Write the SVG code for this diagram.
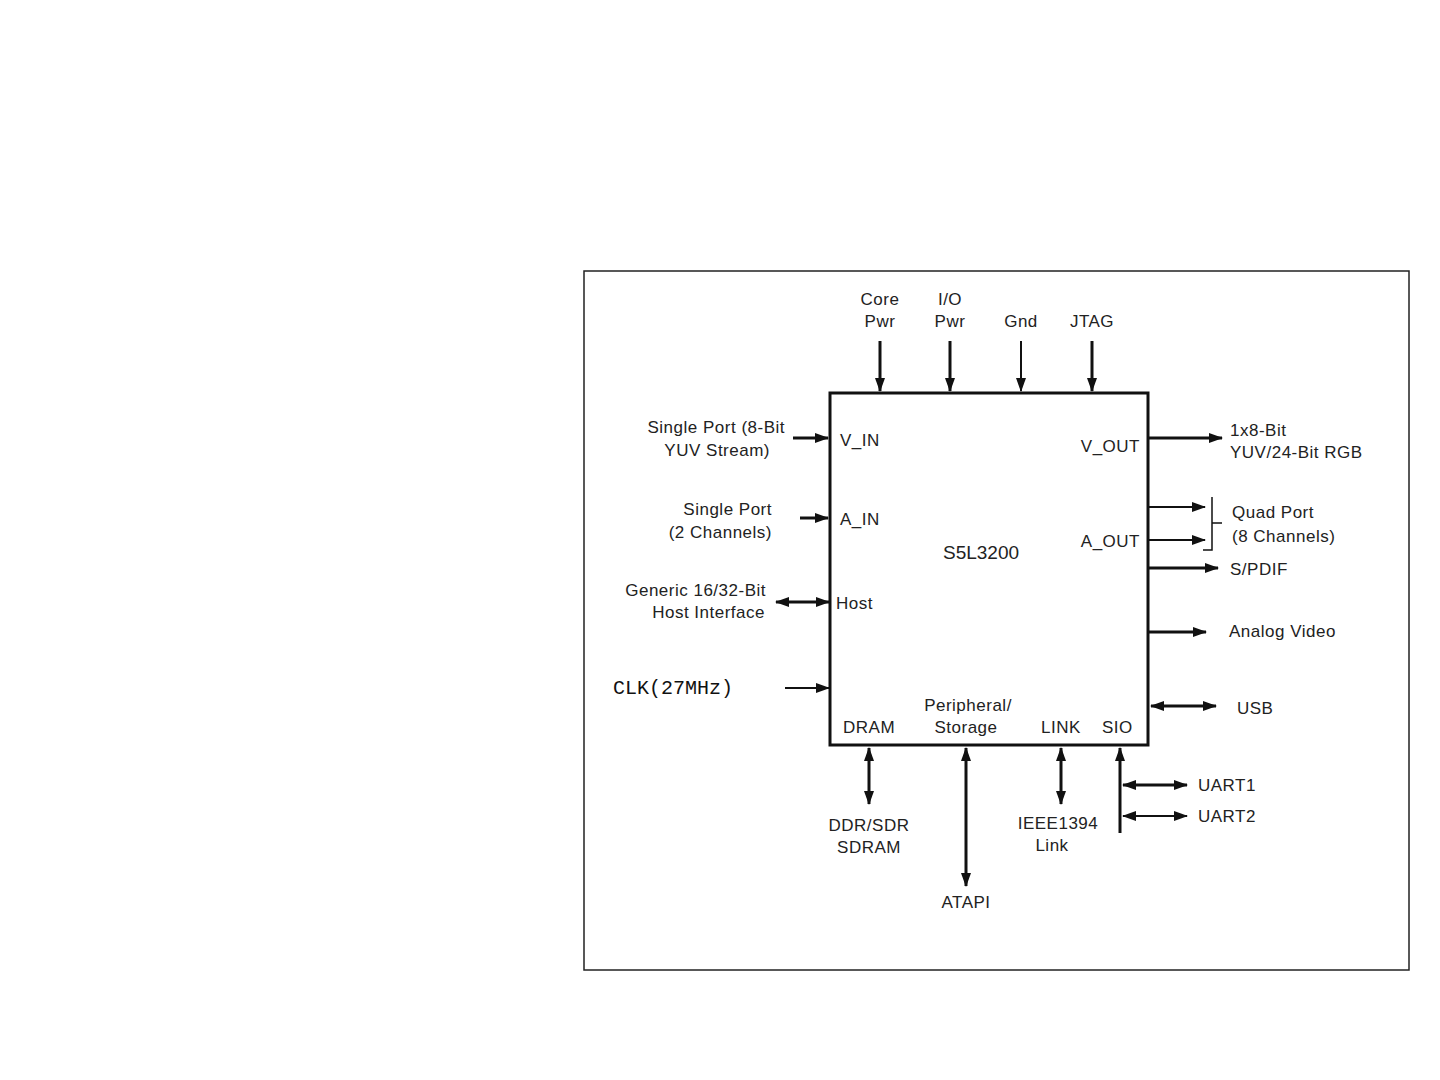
<svg xmlns="http://www.w3.org/2000/svg" width="1440" height="1080" viewBox="0 0 1440 1080">
<defs>
<marker id="ah" viewBox="0 0 14 10" refX="13" refY="5" markerWidth="14" markerHeight="10" markerUnits="userSpaceOnUse" orient="auto-start-reverse">
<path d="M0,0 L14,5 L0,10 Z" fill="#111"/>
</marker>
<style>
text{font-family:"Liberation Sans",Arial,sans-serif;font-size:17px;letter-spacing:0.5px;fill:#222}
.m{text-anchor:middle}
.e{text-anchor:end}
.mono{font-family:"Liberation Mono","DejaVu Sans Mono",monospace;font-size:20px;letter-spacing:0;fill:#111}
.big{font-size:19px;letter-spacing:0}
.w{stroke:#111;stroke-width:3;fill:none}
.t{stroke:#111;stroke-width:2;fill:none}
.a{marker-end:url(#ah)}
.d{marker-start:url(#ah);marker-end:url(#ah)}
</style>
</defs>
<rect width="1440" height="1080" fill="#fff"/>
<rect id="frame" x="584" y="271" width="825" height="699" fill="none" stroke="#222" stroke-width="1.5"/>
<g id="chip">
<rect x="830" y="393" width="318" height="352" fill="#fff" stroke="#111" stroke-width="3"/>
<text class="big m" x="981" y="559">S5L3200</text>
<text x="840" y="446">V_IN</text>
<text x="840" y="525">A_IN</text>
<text x="836" y="609">Host</text>
<text x="1140" y="452" class="e">V_OUT</text>
<text x="1140" y="547" class="e">A_OUT</text>
<text x="843" y="733">DRAM</text>
<text class="m" x="968" y="711">Peripheral/</text>
<text class="m" x="966" y="733">Storage</text>
<text x="1041" y="733">LINK</text>
<text x="1102" y="733">SIO</text>
</g>
<g id="connectors">
<line class="w a" x1="880" y1="341" x2="880" y2="391"/>
<line class="w a" x1="950" y1="341" x2="950" y2="391"/>
<line class="t a" x1="1021" y1="341" x2="1021" y2="391"/>
<line class="w a" x1="1092" y1="341" x2="1092" y2="391"/>
<line class="w a" x1="793" y1="438" x2="828" y2="438"/>
<line class="w a" x1="800" y1="518" x2="828" y2="518"/>
<line class="w d" x1="776" y1="602" x2="829" y2="602"/>
<line class="t a" x1="785" y1="688" x2="829" y2="688"/>
<line class="w a" x1="1149" y1="438" x2="1222" y2="438"/>
<line class="t a" x1="1149" y1="507" x2="1205" y2="507"/>
<line class="t a" x1="1149" y1="540" x2="1205" y2="540"/>
<path d="M1212,497 L1212,550 L1203,550 M1212,523 L1222,523" stroke="#111" stroke-width="1.5" fill="none"/>
<line class="w a" x1="1149" y1="568" x2="1218" y2="568"/>
<line class="w a" x1="1149" y1="632" x2="1206" y2="632"/>
<line class="w d" x1="1151" y1="706" x2="1216" y2="706"/>
<line class="w d" x1="869" y1="748" x2="869" y2="804"/>
<line class="w d" x1="966" y1="748" x2="966" y2="886"/>
<line class="w d" x1="1061" y1="748" x2="1061" y2="804"/>
<line class="w a" x1="1120" y1="833" x2="1120" y2="748"/>
<line class="w d" x1="1123" y1="785" x2="1187" y2="785"/>
<line class="t d" x1="1123" y1="816" x2="1187" y2="816"/>
</g>
<g id="n-core"><text class="m" x="880" y="305">Core</text><text class="m" x="880" y="327">Pwr</text></g>
<g id="n-io"><text class="m" x="950" y="305">I/O</text><text class="m" x="950" y="327">Pwr</text></g>
<g id="n-gnd"><text class="m" x="1021" y="327">Gnd</text></g>
<g id="n-jtag"><text class="m" x="1092" y="327">JTAG</text></g>
<g id="n-vin"><text class="e" x="785" y="433">Single Port (8-Bit</text><text class="e" x="770" y="456">YUV Stream)</text></g>
<g id="n-ain"><text class="e" x="772" y="515">Single Port</text><text class="e" x="772" y="538">(2 Channels)</text></g>
<g id="n-host"><text class="e" x="766" y="596">Generic 16/32-Bit</text><text class="e" x="765" y="618">Host Interface</text></g>
<g id="n-clk"><text class="mono" x="613" y="694">CLK(27MHz)</text></g>
<g id="n-vout"><text x="1230" y="436">1x8-Bit</text><text x="1230" y="458">YUV/24-Bit RGB</text></g>
<g id="n-quad"><text x="1232" y="518">Quad Port</text><text x="1232" y="542">(8 Channels)</text></g>
<g id="n-spdif"><text x="1230" y="575">S/PDIF</text></g>
<g id="n-av"><text x="1229" y="637">Analog Video</text></g>
<g id="n-usb"><text x="1237" y="714">USB</text></g>
<g id="n-sdram"><text class="m" x="869" y="831">DDR/SDR</text><text class="m" x="869" y="853">SDRAM</text></g>
<g id="n-atapi"><text class="m" x="966" y="908">ATAPI</text></g>
<g id="n-1394"><text class="m" x="1058" y="829">IEEE1394</text><text class="m" x="1052" y="851">Link</text></g>
<g id="n-uart1"><text x="1198" y="791">UART1</text></g>
<g id="n-uart2"><text x="1198" y="822">UART2</text></g>
</svg>
